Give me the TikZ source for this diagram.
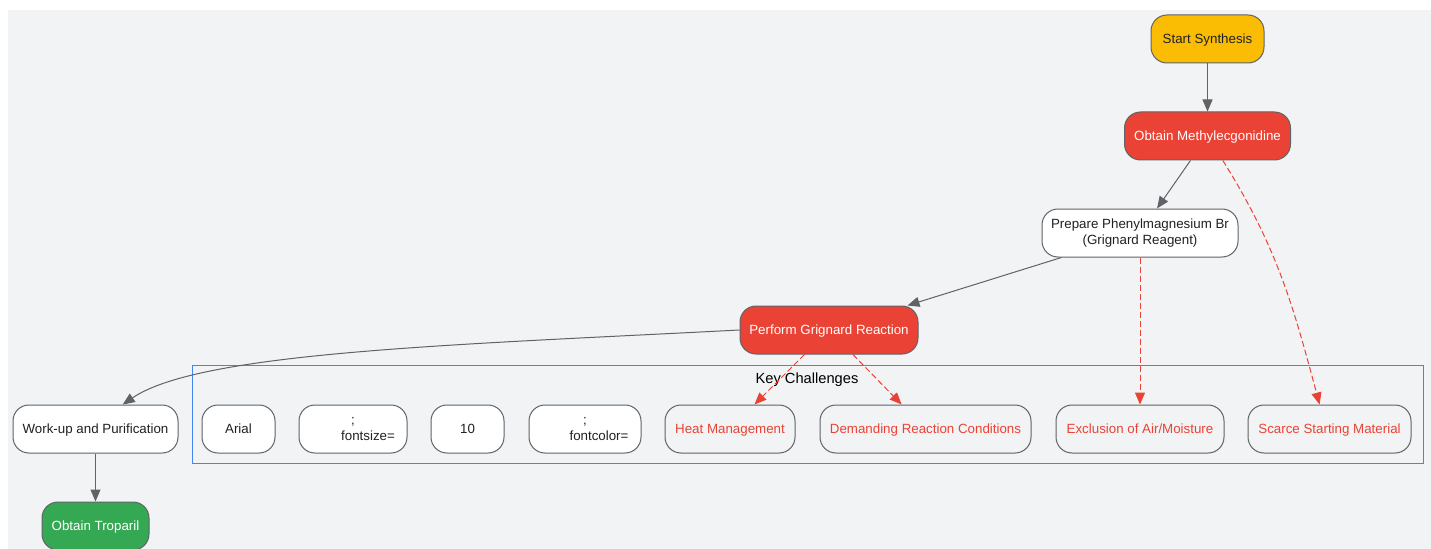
\documentclass[tikz,border=0pt]{standalone}
\usepackage{fontspec}
\setmainfont{Liberation Sans}
\usetikzlibrary{arrows.meta}
\definecolor{bggray}{HTML}{F1F3F4}
\definecolor{gyellow}{HTML}{FBBC04}
\definecolor{gred}{HTML}{EA4335}
\definecolor{ggreen}{HTML}{34A853}
\definecolor{gblue}{HTML}{4285F4}
\definecolor{edgegray}{HTML}{5F6368}
\definecolor{txtdark}{HTML}{202124}
\begin{document}
\begin{tikzpicture}[x=0.75pt,y=-0.75pt]
\tikzstyle{mybox} = [draw=edgegray, line width=0.75pt, rounded corners=12pt, minimum height=36pt, inner sep=2pt, font=\fontsize{10}{12}\selectfont, align=center, text=txtdark, fill=white, text height=9pt, text depth=1.8pt]
\tikzstyle{mytwo} = [mybox, text height=, text depth=]
\tikzstyle{myred} = [mybox, fill=gred, text=white]
\tikzstyle{mychall} = [mybox, fill=bggray, text=gred]
\tikzstyle{myarrow} = [draw=edgegray, line width=0.75pt, -{Triangle[length=9pt,width=7.5pt]}]
\tikzstyle{mydash} = [draw=gred, line width=0.75pt, dash pattern=on 4.5pt off 2.25pt, -{Triangle[length=9pt,width=7.5pt]}]
\useasboundingbox (0,0) rectangle (1431,549);
\fill[bggray] (8,10) rectangle (1431,549);
% cluster
\draw[gblue, line width=0.75pt] (192,365) rectangle (1423,463);
\node[font=\fontsize{11}{13}\selectfont] (cluster) at (807,380) {Key Challenges};
% main steps
\node[mybox, fill=gyellow, minimum width=84.75pt] (start) at (1207.5,39) {Start Synthesis};
\node[myred, minimum width=124.5pt] (methyl) at (1207.5,136) {Obtain Methylecgonidine};
\node[mytwo, minimum width=147pt] (prepare) at (1140,233) {Prepare Phenylmagnesium Br\\(Grignard Reagent)};
\node[myred, minimum width=133.5pt] (perform) at (829,330) {Perform Grignard Reaction};
\node[mybox, minimum width=123.75pt] (workup) at (95.5,429) {Work-up and Purification};
\node[mybox, fill=ggreen, text=white, minimum width=80.25pt] (troparil) at (95.5,526) {Obtain Troparil};
% challenges
\node[mybox, minimum width=54.75pt] (arial) at (238.5,429) {Arial};
\node[mytwo, minimum width=81pt] (fsize) at (353,429) {;\\\hspace*{22.5pt}fontsize=};
\node[mybox, minimum width=54.75pt] (ten) at (467.5,429) {10};
\node[mytwo, minimum width=84pt] (fcolor) at (585,429) {;\\\hspace*{21pt}fontcolor=};
\node[mychall, minimum width=97.5pt] (heat) at (730,429) {Heat Management};
\node[mychall, minimum width=158.25pt] (demand) at (925.5,429) {Demanding Reaction Conditions};
\node[mychall, minimum width=126pt] (exclude) at (1140,429) {Exclusion of Air/Moisture};
\node[mychall, minimum width=122.25pt] (scarce) at (1329.5,429) {Scarce Starting Material};
% edges
\draw[myarrow] (start) -- (methyl);
\draw[myarrow] (methyl) -- (prepare);
\draw[myarrow] (prepare) -- (perform);
\draw[myarrow] (perform.west) .. controls (450,345) and (200,352) .. (workup.42);
\draw[myarrow] (workup) -- (troparil);
\draw[mydash] (methyl.-58) to[out=-58,in=105] (scarce.112);
\draw[mydash] (prepare) -- (exclude);
\draw[mydash] (perform) -- (heat);
\draw[mydash] (perform) -- (demand);
\end{tikzpicture}
\end{document}
